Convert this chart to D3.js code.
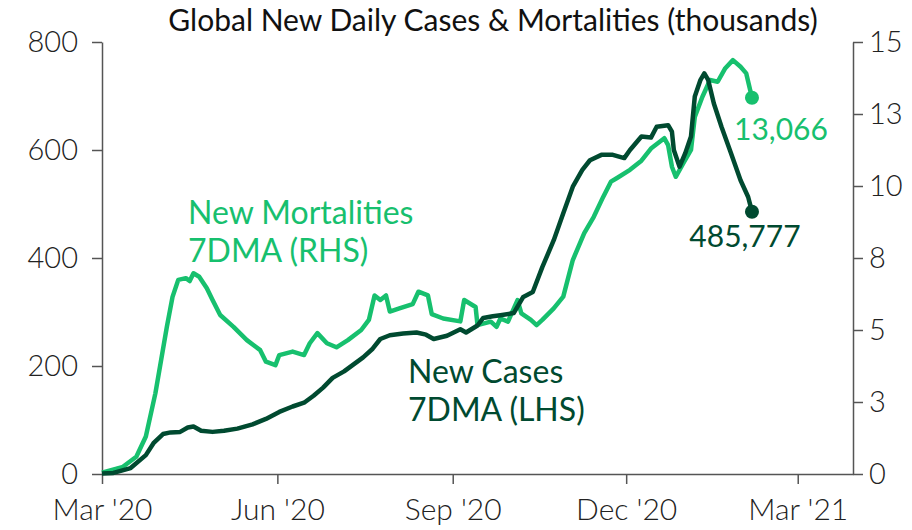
<!DOCTYPE html>
<html>
<head>
<meta charset="utf-8">
<script src="https://cdn.jsdelivr.net/npm/d3@7"></script>
<style>
  body { margin: 0; background: #fff; }
  text { font-family: Lato, "Open Sans", sans-serif; }
</style>
</head>
<body>
<div id="chart"></div>
<script>
// values in thousands, 7-day moving averages
const caseDates = ['2020-03-01','2020-03-07','2020-03-16','2020-03-24','2020-03-28','2020-04-02','2020-04-06','2020-04-11','2020-04-15','2020-04-18','2020-04-22','2020-04-28','2020-05-04','2020-05-11','2020-05-19','2020-05-26','2020-06-02','2020-06-09','2020-06-15','2020-06-20','2020-06-25','2020-06-30','2020-07-06','2020-07-11','2020-07-16','2020-07-21','2020-07-25','2020-07-30','2020-08-06','2020-08-13','2020-08-18','2020-08-22','2020-08-29','2020-09-05','2020-09-08','2020-09-14','2020-09-17','2020-09-22','2020-09-26','2020-10-03','2020-10-08','2020-10-13','2020-10-18','2020-10-24','2020-10-29','2020-11-03','2020-11-08','2020-11-12','2020-11-18','2020-11-24','2020-11-30','2020-12-03','2020-12-09','2020-12-14','2020-12-17','2020-12-23','2020-12-25','2020-12-26','2020-12-29','2021-01-01','2021-01-04','2021-01-06','2021-01-09','2021-01-11','2021-01-13','2021-01-16','2021-01-20','2021-01-25','2021-01-30','2021-02-03','2021-02-05']
const caseValues = [1,2,11,35,57,74,77,78,86,88,80,78,80,84,92,102,115,125,132,145,160,178,190,203,216,232,250,257,260,262,258,250,256,268,262,275,289,292,294,298,328,337,383,433,483,532,563,581,591,591,585,600,625,623,643,646,634,600,569,594,625,699,730,742,730,686,643,594,544,513,485.777]

const deathDates = ['2020-03-01','2020-03-12','2020-03-19','2020-03-24','2020-03-29','2020-04-04','2020-04-07','2020-04-10','2020-04-14','2020-04-16','2020-04-18','2020-04-21','2020-04-25','2020-04-28','2020-05-02','2020-05-09','2020-05-16','2020-05-23','2020-05-26','2020-05-31','2020-06-02','2020-06-09','2020-06-15','2020-06-18','2020-06-22','2020-06-27','2020-07-02','2020-07-08','2020-07-15','2020-07-19','2020-07-22','2020-07-25','2020-07-28','2020-07-30','2020-08-04','2020-08-11','2020-08-14','2020-08-19','2020-08-21','2020-08-27','2020-09-05','2020-09-07','2020-09-13','2020-09-14','2020-09-21','2020-09-24','2020-09-26','2020-09-30','2020-10-05','2020-10-07','2020-10-12','2020-10-15','2020-10-18','2020-10-24','2020-10-29','2020-11-03','2020-11-09','2020-11-14','2020-11-19','2020-11-23','2020-11-26','2020-12-03','2020-12-09','2020-12-14','2020-12-21','2020-12-23','2020-12-25','2020-12-27','2020-12-31','2021-01-04','2021-01-06','2021-01-10','2021-01-14','2021-01-18','2021-01-22','2021-01-26','2021-01-30','2021-02-02','2021-02-05']
const deathValues = [0.05,0.25,0.6,1.3,2.8,5.1,6.15,6.74,6.8,6.7,6.97,6.85,6.45,6.04,5.52,5.11,4.65,4.3,3.9,3.78,4.13,4.25,4.13,4.54,4.89,4.54,4.4,4.65,5.0,5.35,6.2,6.04,6.2,5.64,5.75,5.9,6.33,6.2,5.55,5.4,5.3,6.04,5.8,5.17,5.29,5.11,5.4,5.29,6.04,5.58,5.35,5.17,5.35,5.75,6.16,7.43,8.36,8.93,9.63,10.15,10.27,10.56,10.88,11.3,11.66,11.42,10.67,10.32,10.79,11.25,12.4,13.1,13.68,13.62,14.09,14.37,14.14,13.91,13.066]

const xTicks = ['2020-03-01','2020-06-01','2020-09-01','2020-12-01','2021-03-01']
const xTickLabels = ["Mar '20", "Jun '20", "Sep '20", "Dec '20", "Mar '21"]
const leftTicks = [0, 200, 400, 600, 800]
const rightTicks = [0, 2.5, 5, 7.5, 10, 12.5, 15]

const title = 'Global New Daily Cases & Mortalities (thousands)'
const caseLabel = ['New Cases', '7DMA (LHS)']
const deathLabel = ['New Mortalities', '7DMA (RHS)']

const dark = '#004a30'
const bright = '#17c06e'
const axisColor = '#555'

const width = 912, height = 530
const margin = { top: 42, right: 59, bottom: 56, left: 102 }

const parse = d3.timeParse('%Y-%m-%d')
const cases = caseDates.map((d, i) => ({ date: parse(d), value: caseValues[i] }))
const deaths = deathDates.map((d, i) => ({ date: parse(d), value: deathValues[i] }))

const x = d3.scaleTime()
  .domain([parse('2020-03-01'), parse('2021-03-30')])
  .range([margin.left, width - margin.right])
const yL = d3.scaleLinear().domain([0, 800]).range([height - margin.bottom, margin.top])
const yR = d3.scaleLinear().domain([0, 15]).range([height - margin.bottom, margin.top])

const svg = d3.select('#chart').append('svg')
  .attr('width', width)
  .attr('height', height)

// title
svg.append('text')
  .attr('x', 493)
  .attr('y', 31)
  .attr('text-anchor', 'middle')
  .attr('font-size', 30)
  .attr('fill', '#111')
  .text(title)

// axes
const styleAxis = size => g => {
  g.select('.domain').attr('stroke', axisColor).attr('stroke-width', 1.5)
  g.selectAll('.tick line').attr('stroke', axisColor).attr('stroke-width', 1.5)
  g.selectAll('.tick text')
    .attr('fill', '#222')
    .attr('font-size', size)
    .attr('font-weight', 300)
    .attr('font-family', 'Lato, sans-serif')
}

svg.append('g')
  .attr('transform', `translate(${margin.left},0)`)
  .call(d3.axisLeft(yL).tickValues(leftTicks).tickSize(10).tickPadding(14).tickSizeOuter(0))
  .call(styleAxis(29))

svg.append('g')
  .attr('transform', `translate(${width - margin.right},0)`)
  .call(d3.axisRight(yR).tickValues(rightTicks).tickFormat(d3.format('.0f')).tickSize(10).tickPadding(6).tickSizeOuter(0))
  .call(styleAxis(29))

svg.append('g')
  .attr('transform', `translate(0,${height - margin.bottom})`)
  .call(d3.axisBottom(x).tickValues(xTicks.map(parse)).tickFormat((d, i) => xTickLabels[i]).tickSize(10).tickPadding(15).tickSizeOuter(0))
  .call(styleAxis(30))

// lines
const lineL = d3.line().x(d => x(d.date)).y(d => yL(d.value))
const lineR = d3.line().x(d => x(d.date)).y(d => yR(d.value))

svg.append('path')
  .datum(deaths)
  .attr('d', lineR)
  .attr('fill', 'none')
  .attr('stroke', bright)
  .attr('stroke-width', 4.5)
  .attr('stroke-linejoin', 'round')

svg.append('path')
  .datum(cases)
  .attr('d', lineL)
  .attr('fill', 'none')
  .attr('stroke', dark)
  .attr('stroke-width', 4.5)
  .attr('stroke-linejoin', 'round')

// end points
const lastCase = cases[cases.length - 1]
const lastDeath = deaths[deaths.length - 1]

svg.append('circle')
  .attr('cx', x(lastDeath.date)).attr('cy', yR(lastDeath.value))
  .attr('r', 7).attr('fill', bright)
svg.append('circle')
  .attr('cx', x(lastCase.date)).attr('cy', yL(lastCase.value))
  .attr('r', 7).attr('fill', dark)

svg.append('text')
  .attr('x', x(lastDeath.date) + 29)
  .attr('y', yR(lastDeath.value) + 42)
  .attr('text-anchor', 'middle')
  .attr('font-size', 30)
  .attr('fill', bright)
  .text(d3.format(',.0f')(lastDeath.value * 1000))

svg.append('text')
  .attr('x', x(lastCase.date) - 7)
  .attr('y', yL(lastCase.value) + 35)
  .attr('text-anchor', 'middle')
  .attr('font-size', 30)
  .attr('fill', dark)
  .text(d3.format(',.0f')(lastCase.value * 1000))

// series labels
const seriesLabel = (lines, px, py, color) => {
  const t = svg.append('text')
    .attr('x', px)
    .attr('y', py)
    .attr('font-size', 32)
    .attr('fill', color)
  lines.forEach((s, i) => {
    t.append('tspan').attr('x', px).attr('dy', i === 0 ? 0 : 38).text(s)
  })
}

seriesLabel(deathLabel, 188, 224, bright)
seriesLabel(caseLabel, 408, 383, dark)
</script>
</body>
</html>
